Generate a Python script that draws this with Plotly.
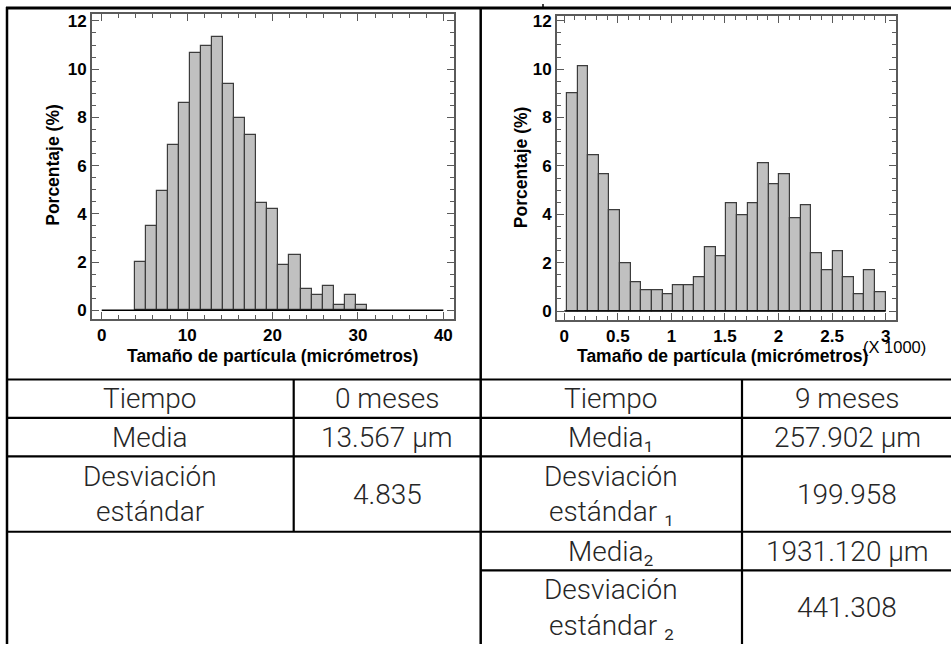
import numpy as np
import plotly.graph_objects as go

W, H = 951, 646

# ---------------- data ----------------
# Left histogram: 0 meses
left_bin_start = 3.87
left_bin_width = 1.294
left_pct = [2.01, 3.49, 4.97, 6.86, 8.59, 10.67, 10.96, 11.33, 9.37, 7.96, 7.27,
            4.47, 4.19, 1.89, 2.30, 0.90, 0.62, 1.03, 0.22, 0.62, 0.22]
left_xticks = [0, 10, 20, 30, 40]
left_yticks = [0, 2, 4, 6, 8, 10, 12]

# Right histogram: 9 meses (x in thousands of micrometres)
right_bin_start = 0.025
right_bin_width = 0.0992
right_pct = [9.02, 10.12, 6.46, 5.64, 4.16, 1.97, 1.20, 0.86, 0.86, 0.68,
             1.08, 1.08, 1.41, 2.66, 2.27, 4.45, 3.96, 4.45, 6.13, 5.23,
             5.64, 3.84, 4.38, 2.38, 1.69, 2.47, 1.41, 0.68, 1.69, 0.79]
right_xticks = [0, 0.5, 1, 1.5, 2, 2.5, 3]
right_xticklabels = ["0", "0.5", "1", "1.5", "2", "2.5", "3"]
right_yticks = [0, 2, 4, 6, 8, 10, 12]

x_title = "Tamaño de partícula (micrómetros)"
y_title = "Porcentaje (%)"
right_x_multiplier = "(X 1000)"

# Table contents
left_row_labels = [["Tiempo"], ["Media"], ["Desviación", "estándar"]]
left_row_values = ["0 meses", "13.567 µm", "4.835"]
right_row_labels = [["Tiempo"], ["Media₁"], ["Desviación", "estándar ₁"],
                    ["Media₂"], ["Desviación", "estándar ₂"]]
right_row_values = ["9 meses", "257.902 µm", "199.958", "1931.120 µm", "441.308"]

# ---------------- helpers ----------------
def px(xp):
    return xp / W

def py(yp):
    return 1 - yp / H

left_centers = left_bin_start + left_bin_width * (np.arange(len(left_pct)) + 0.5)
right_centers = right_bin_start + right_bin_width * (np.arange(len(right_pct)) + 0.5)

BAR_FILL = "#C0C0C0"
BAR_LINE = "#3c3c3c"
FRAME = "#5a5a5a"
CHART_FONT = "Liberation Sans, Arial, sans-serif"
TABLE_FONT = "Roboto, DejaVu Sans, sans-serif"

fig = go.Figure()

fig.add_trace(go.Bar(x=left_centers, y=left_pct, width=left_bin_width,
                     marker=dict(color=BAR_FILL, line=dict(color=BAR_LINE, width=1.2)),
                     xaxis="x", yaxis="y", showlegend=False))
fig.add_trace(go.Scatter(x=[left_xticks[0], left_xticks[-1]], y=[0, 0], mode="lines",
                         line=dict(color="black", width=1.5), xaxis="x", yaxis="y",
                         showlegend=False, hoverinfo="skip"))

fig.add_trace(go.Bar(x=right_centers, y=right_pct, width=right_bin_width,
                     marker=dict(color=BAR_FILL, line=dict(color=BAR_LINE, width=1.2)),
                     xaxis="x2", yaxis="y2", showlegend=False))
fig.add_trace(go.Scatter(x=[right_xticks[0], right_xticks[-1]], y=[0, 0], mode="lines",
                         line=dict(color="black", width=1.5), xaxis="x2", yaxis="y2",
                         showlegend=False, hoverinfo="skip"))

tickfont = dict(family=CHART_FONT, size=17, color="black", weight="bold")

def axis_common():
    return dict(showline=True, linecolor=FRAME, linewidth=2, mirror="ticks",
                ticks="inside", ticklen=7, tickwidth=1, tickcolor=FRAME,
                showgrid=False, zeroline=False, tickfont=tickfont, fixedrange=True)

fig.update_layout(
    width=W, height=H,
    margin=dict(l=0, r=0, t=0, b=0),
    paper_bgcolor="white", plot_bgcolor="white",
    bargap=0,
    xaxis=dict(**axis_common(), domain=[px(92), px(454)], range=[-1.14, 41.25],
               tickvals=left_xticks, anchor="y",
               minor=dict(dtick=2, tick0=0, ticks="inside", ticklen=4, tickcolor=FRAME)),
    yaxis=dict(**axis_common(), domain=[py(317.5), py(10)], range=[-0.34, 12.29],
               tickvals=left_yticks, anchor="x",
               minor=dict(dtick=0.5, tick0=0, ticks="inside", ticklen=4, tickcolor=FRAME)),
    xaxis2=dict(**axis_common(), domain=[px(557), px(896)], range=[-0.068, 3.097],
                tickvals=right_xticks, ticktext=right_xticklabels, anchor="y2",
                minor=dict(dtick=0.1, tick0=0, ticks="inside", ticklen=4, tickcolor=FRAME)),
    yaxis2=dict(**axis_common(), domain=[py(319), py(12.3)], range=[-0.37, 12.19],
                tickvals=right_yticks, anchor="x2",
                minor=dict(dtick=0.5, tick0=0, ticks="inside", ticklen=4, tickcolor=FRAME)),
)

annotations = []
title_font = dict(family=CHART_FONT, size=17.5, color="black", weight="bold")
annotations.append(dict(x=px(272), y=py(355), xref="paper", yref="paper", text=x_title,
                        showarrow=False, font=title_font, xanchor="center", yanchor="middle"))
annotations.append(dict(x=px(722), y=py(355), xref="paper", yref="paper", text=x_title,
                        showarrow=False, font=title_font, xanchor="center", yanchor="middle"))
annotations.append(dict(x=px(894.5), y=py(346), xref="paper", yref="paper", text=right_x_multiplier,
                        showarrow=False, font=dict(family=CHART_FONT, size=16.5, color="black"),
                        xanchor="center", yanchor="middle"))
annotations.append(dict(x=px(53.3), y=py(162), xref="paper", yref="paper", text=y_title,
                        showarrow=False, font=title_font, textangle=-90,
                        xanchor="center", yanchor="middle"))
annotations.append(dict(x=px(521.7), y=py(165), xref="paper", yref="paper", text=y_title,
                        showarrow=False, font=title_font, textangle=-90,
                        xanchor="center", yanchor="middle"))

# ---------------- table ----------------
row_edges = [379, 417.7, 456.7, 532.7, 571.7, 646]
left_cols = [7, 293.7, 480.7]
right_cols = [480.7, 742, 952]
tfont = dict(family=TABLE_FONT, size=28, color="#262626", weight=300)
LINE_GAP = 18.0

def add_cell(lines, xc, r):
    yc = (row_edges[r] + row_edges[r + 1]) / 2
    n = len(lines)
    for i, t in enumerate(lines):
        yy = yc + (i - (n - 1) / 2) * 2 * LINE_GAP
        annotations.append(dict(x=px(xc), y=py(yy), xref="paper", yref="paper", text=t,
                                showarrow=False, font=tfont, xanchor="center", yanchor="middle"))

for r, (lab, val) in enumerate(zip(left_row_labels, left_row_values)):
    add_cell(lab, (left_cols[0] + left_cols[1]) / 2, r)
    add_cell([val], (left_cols[1] + left_cols[2]) / 2, r)
for r, (lab, val) in enumerate(zip(right_row_labels, right_row_values)):
    add_cell(lab, (right_cols[0] + right_cols[1]) / 2, r)
    add_cell([val], (right_cols[1] + right_cols[2]) / 2, r)

shapes = []
def hline(y, x0, x1, w=2.2):
    shapes.append(dict(type="line", xref="paper", yref="paper", x0=px(x0), x1=px(x1),
                       y0=py(y), y1=py(y), line=dict(color="black", width=w)))
def vline(x, y0, y1, w=2.2):
    shapes.append(dict(type="line", xref="paper", yref="paper", x0=px(x), x1=px(x),
                       y0=py(y0), y1=py(y1), line=dict(color="black", width=w)))

hline(4, 6, 951, 3)
vline(7, 3, 646, 2.5)
vline(480.7, 3, 646, 2.5)
vline(543, 0, 4, 1.5)
for yv in row_edges[:4]:
    hline(yv, 7, 951)
hline(row_edges[4], 480.7, 951)
vline(left_cols[1], row_edges[0], row_edges[3])
vline(right_cols[1], row_edges[0], row_edges[5])

fig.update_layout(annotations=annotations, shapes=shapes)

fig.write_html("out.html", config={"displayModeBar": False},
               post_script="document.body.style.margin='0';document.body.style.overflow='hidden';")
